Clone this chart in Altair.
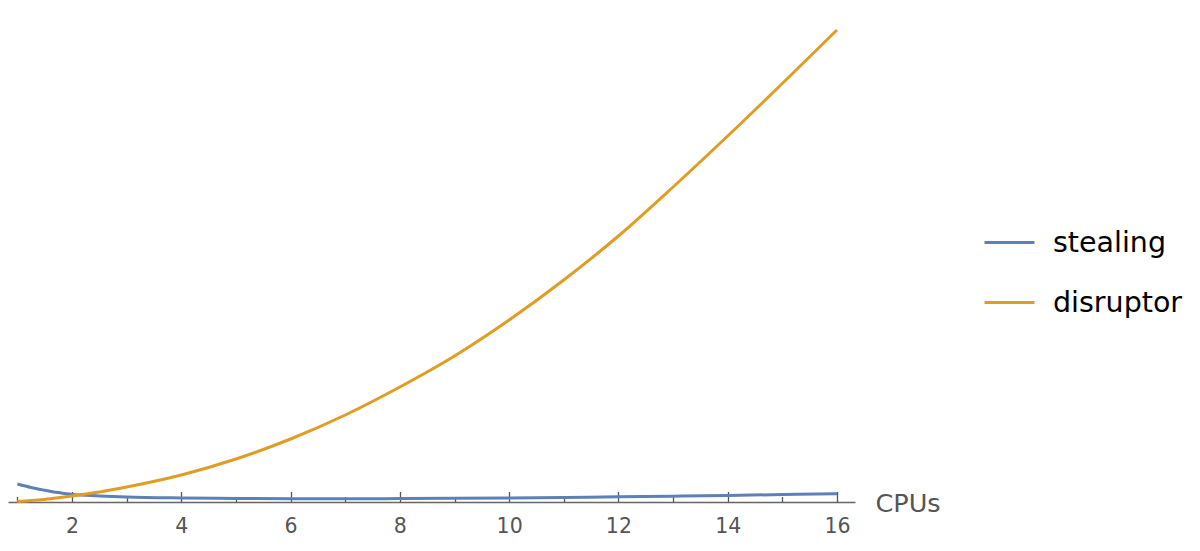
import altair as alt
import pandas as pd

# ---- data ----
cpus = [1, 1.25, 1.5, 1.75, 2, 2.5, 3, 4, 5, 6, 7, 8, 9, 10, 11, 12, 13, 14, 15, 16]
stealing = [18, 14.5, 11.8, 9.4, 7.5, 6.1, 5.0, 4.0, 3.5, 3.2, 3.2, 3.4, 3.7, 4.1, 4.6, 5.2, 5.8, 6.6, 7.4, 8.3]
disruptor = [0.5, 1.4, 2.6, 4.2, 6.0, 10, 15, 27, 43, 63, 87, 115, 146, 182, 222, 266, 315, 366, 418.5, 472]

series_names = ["stealing", "disruptor"]
series_colors = ["#5E81B5", "#E19C24"]

tick_values = [1, 1.5, 2, 2.5, 3, 3.5, 4, 4.5, 5, 5.5, 6, 6.5, 7, 7.5, 8, 8.5,
               9, 9.5, 10, 10.5, 11, 11.5, 12, 12.5, 13, 13.5, 14, 14.5, 15, 15.5, 16]

rows = []
for name, vals in zip(series_names, [stealing, disruptor]):
    for i, (x, y) in enumerate(zip(cpus, vals)):
        rows.append({"CPUs": x, "value": y, "series": name, "order": i})
df = pd.DataFrame(rows)

FONT = "DejaVu Sans"

x_enc = alt.X(
    "CPUs:Q",
    scale=alt.Scale(domain=[0.828, 16.33], nice=False, zero=False),
    axis=alt.Axis(
        values=tick_values,
        format="d",
        labelExpr="datum.value % 2 === 0 ? datum.label : ''",
        tickSize={"condition": {"test": "datum.value % 2 === 0", "value": -10.5}, "value": -5.5},
        labelPadding=25,
        labelFontSize=20.5,
        labelFont=FONT,
        labelColor="#555555",
        labelFlush=False,
        grid=False,
        domainColor="#666666",
        domainWidth=1.3,
        tickColor="#555555",
        tickWidth=1.3,
        title="CPUs",
        titleX=867,
        titleY=1.5,
        titleAlign="left",
        titleBaseline="middle",
        titleFont=FONT,
        titleFontSize=25.5,
        titleFontWeight="normal",
        titleColor="#555555",
        zindex=0,
    ),
)
y_enc = alt.Y("value:Q", scale=alt.Scale(domain=[0, 494], nice=False), axis=None)
color_enc = alt.Color(
    "series:N",
    scale=alt.Scale(domain=series_names, range=series_colors),
    legend=alt.Legend(
        orient="none",
        legendX=975,
        legendY=208,
        title=None,
        symbolType="stroke",
        symbolSize=2500,
        symbolStrokeWidth=2.8,
        labelFontSize=28.5,
        labelFont=FONT,
        labelColor="black",
        labelOffset=17,
        rowPadding=19,
        padding=0,
    ),
)

base = alt.Chart(df).mark_line(strokeWidth=3, interpolate="monotone")

blue = base.transform_filter(alt.datum.series == "stealing").encode(
    x=x_enc, y=y_enc, color=color_enc, order="order:Q"
)
orange = base.transform_filter(alt.datum.series == "disruptor").encode(
    x=x_enc, y=y_enc, color=color_enc, order="order:Q"
)

chart = (
    alt.layer(blue, orange)
    .properties(width=847, height=494, padding=0, background="white")
    .configure_view(stroke=None)
)

chart.save("out.html", embed_options={"renderer": "svg", "actions": False})
